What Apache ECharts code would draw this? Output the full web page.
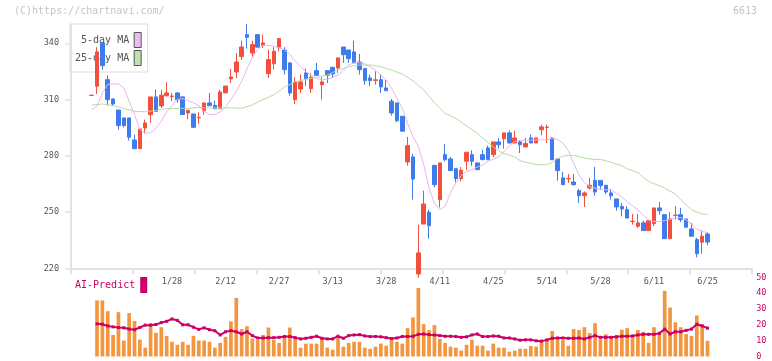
<!DOCTYPE html>
<html><head><meta charset="utf-8">
<script src="https://cdn.jsdelivr.net/npm/echarts@6/dist/echarts.min.js"></script>
<style>html,body{margin:0;padding:0;background:#fff}#c{width:772px;height:361px}</style>
</head><body><div id="c"></div>
<script>
const dates = ['1/6','1/7','1/8','1/9','1/10','1/14','1/15','1/16','1/17','1/20','1/21','1/22','1/23','1/24','1/27','1/28','1/29','1/30','1/31',
'2/3','2/4','2/5','2/6','2/7','2/10','2/12','2/13','2/14','2/17','2/18','2/19','2/20','2/21','2/25','2/26','2/27','2/28',
'3/3','3/4','3/5','3/6','3/7','3/10','3/11','3/12','3/13','3/14','3/17','3/18','3/19','3/21','3/24','3/25','3/26','3/27','3/28','3/31',
'4/1','4/2','4/3','4/4','4/7','4/8','4/9','4/10','4/11','4/14','4/15','4/16','4/17','4/18','4/21','4/22','4/23','4/24','4/25','4/28','4/30',
'5/1','5/2','5/7','5/8','5/9','5/12','5/13','5/14','5/15','5/16','5/19','5/20','5/21','5/22','5/23','5/26','5/27','5/28','5/29','5/30',
'6/2','6/3','6/4','6/5','6/6','6/9','6/10','6/11','6/12','6/13','6/16','6/17','6/18','6/19','6/20','6/23','6/24','6/25'];
const dateTickLabels = ['1/28','2/12','2/27','3/13','3/28','4/11','4/25','5/14','5/28','6/11','6/25'];
const priceTicks = [220, 250, 280, 310, 340];
const rightTicks = [0, 10, 20, 30, 40, 50];

const open = [312.2,317.1,340.2,320.6,310.3,304.4,300.2,300.2,288.4,283.8,294.8,301.9,311.4,306.6,312.1,311.6,313.5,311.4,302.8,302.3,
300.2,304.1,308.2,306.9,305.1,313.5,321,324.7,332.9,344.6,334.8,344.6,338.9,323.8,329.1,337.9,336.4,329.5,309.9,315.6,
324.2,315.8,325.4,317.9,325.4,327.2,326.8,338,336.4,335.4,330,326.5,321.5,320.2,320.6,316.2,309.1,308.2,301.1,276.7,
279.4,217,243.6,249.9,274.9,256.6,280.6,278.3,273.1,267.8,277.1,280.6,276.2,280.6,284.2,280.6,287.4,289.1,292.2,286.8,
287.4,284.7,289.5,286.8,293.9,295.1,289.5,278.3,268.2,267.7,266,261.4,258.7,262.8,266.9,266.9,264.3,260.2,257,253,
251.3,245,242.4,244.2,240.1,243.8,252.2,248.6,235.8,248.2,248.6,246.3,241,235.3,233.9,238.3];
const close = [312.3,335.4,328.1,309.9,307.6,296.1,296.1,289.9,283.8,294.3,297.5,311.4,303.7,312.3,313.5,311.9,309.9,302,304.3,295.2,
300.5,308.2,306.7,305.1,314,317.2,322,330,338,343.2,339.3,337.9,340.2,331.3,335.7,342.5,325.9,313.5,319.4,319.4,
321.1,321.9,322.9,319.4,322.9,323.6,332.2,333.9,331.8,329.5,325.9,320.1,320.1,320.5,316.7,314.7,302.8,298.7,293.1,285.4,
267.6,228.2,254.3,242.7,264.6,276.2,277.9,272.1,267.8,272.3,281.9,277.1,272.6,277.9,277.9,287.4,285.9,292.2,286.8,289.5,
285.9,286.5,286.8,289.5,295.4,295.3,277.9,272.1,264.6,267.9,264.6,258.7,260.2,264.3,260.7,264.1,260.7,258.7,252.7,251.6,
246.8,245.1,244.2,240.1,245.4,252.2,250.7,235.8,246.3,248.3,245.9,241.9,237.1,227.8,237.1,234];
const low = [312.2,313,325.9,306.9,306.4,293.9,295.2,288.1,283.8,283.8,291.8,297.5,303.7,305.5,311.4,309.1,308.2,302,299.6,295.2,
297,301.9,306.7,305.1,305.1,313.5,318.8,321.5,331.1,337.1,332.5,337.9,337.5,321.5,325.9,335.7,323.3,312,307.6,313.5,
317.1,313.5,322.9,309.9,318.8,321.5,324.2,329.5,329.5,329.5,323.3,317.9,317.1,317.9,313.5,314.7,301.4,297.9,293.1,274.7,
256.6,215,243.6,235.8,263.2,252.5,277.1,272.1,265.9,266.4,272.6,274.7,272.6,277.9,277.9,279.2,283.8,283.8,286.8,286.8,
281.5,284.7,286.8,286.8,290.9,286.8,277.9,266.7,264.6,265.5,264.1,254.8,252.7,261.9,258.7,261.9,259.6,256.6,250.7,247.7,
246.8,243.3,241.5,240.1,240.1,242.4,248.6,235.8,235.8,246,244.7,241.9,237.1,225.9,227.8,232.3];
const high = [312.3,337.9,340.5,322.9,310.5,304.5,300.2,300.2,291.3,294.3,299.3,311.4,315.3,315.3,319.2,313.5,314,311.4,304.3,302.3,
303.2,308.2,313.5,309.4,315.3,317.2,326.3,334.8,341.4,350.3,341.4,344.6,344.6,336.6,337.9,342.5,337.9,330,321.9,323.3,
326.5,324.2,329.5,321.9,325.4,327.2,332.2,338,336.4,341.4,334.3,326.5,323.3,325.1,323.3,320.6,310.3,308.2,301.1,290,
281,243.3,261.4,251.3,274.9,276.2,286.3,279.4,273.1,274,281.9,282.9,276.2,283.3,285.4,287.4,289.5,292.2,293.4,293.4,
288.4,289.5,291.3,289.5,296.6,296.6,290,278.3,271.4,270.3,270.3,262.3,261,268.2,274,266.9,264.3,262.3,257,254.8,
253.1,249,249,245.4,245.4,252.2,255.4,248.6,250,253.1,252.2,246.3,244.2,236.2,240.3,239.2];

const ma5 = [304.6,306.4,313.5,318.1,318.3,318.3,316.2,309.1,302,294,292.2,292.2,294.5,298.4,303.4,306.9,310.1,310.5,309.4,308.3,
306.7,303.7,302,302,303.4,305.9,310,314.4,319.7,326.5,332.5,336.6,338.9,338.9,338.4,337.5,336.6,333.9,330.7,327.5,
324.8,323,321.3,320.4,320.8,321.8,323,325.7,328.4,329.6,329.6,329,327.5,325.7,323,320.4,316,310.6,305.3,297.3,
290.2,285,275.3,262.8,254.8,251.3,253.1,260.2,265.5,269.4,271.7,272.6,274,275.1,277.1,278.1,279.5,282.2,285.3,287.6,
288.1,288.3,288.3,288.5,288.5,288.6,289.4,288.8,286.7,282.8,276,269.8,265.7,263.6,262.7,262.2,261.8,261.8,260,257.9,
255.6,253.3,251.1,248.5,245.8,244.9,244.9,245.4,246.2,246.7,247.1,245.8,243.7,240.8,239.6,239];
const ma25 = [307,307.3,307.6,307.2,306.7,306,305.3,304.5,303.7,303.5,303.5,303.8,304.2,304.7,305.1,305.2,305.3,305.3,305.3,305.5,
305.8,305.6,305.5,305.5,305.5,305.5,305.6,305.4,305.3,306.2,307.1,308.6,310,311.2,312.5,314.5,316.6,318,319.5,320,
320.8,321.3,321.8,322.5,323.1,324.4,325.7,326.6,327.5,328,328.4,328.4,328.4,328,327.5,326.6,325.7,324.6,323.6,321.8,
320,317.5,315.1,311.7,308.3,305.4,302.6,301.3,300,298,295.9,294,292,289.5,287,284.8,282.6,281.2,280.3,279.4,
277.4,276.5,276,275.3,275.2,275.3,276.5,278.5,279.8,280.2,280.2,279.5,278.8,278.3,278,278,277.4,276.5,275.6,274.7,
273,272.1,271,268.5,266.4,265.1,264.1,262.8,261.1,259.6,256.6,253.9,251.3,250,249,248.6];

const volume = [null,35.4,35.4,28.6,13.6,28,10.1,27.4,22.4,10.7,5.6,21,15,18.5,13,9.3,7.4,9.3,7.4,13,
10.1,10.1,9.3,5.6,8.6,12.4,22.2,37,17.3,19.1,11.3,10.5,13.6,18.3,10.5,8.6,12.8,18.3,11.1,5.6,
8.1,8.1,8.1,11.1,5.6,4.3,11.7,6.2,8.6,9.3,9.3,5.6,4.9,6.2,8.1,6.8,11.1,9.3,
8.1,17.9,24.7,43.2,20.4,16.7,19.8,11.1,8.6,6.2,5.6,3.7,7.4,10.5,6.8,6.8,3.7,8.1,5.6,5.6,
3.1,3.7,4.9,4.9,6.6,6.2,9.3,10.5,16.1,11.1,10.5,6.8,17.3,16.7,18.5,14.8,21,11.1,14,12.4,
13.6,16.9,17.9,13.6,16.7,15.6,8.6,18.5,14.8,41.4,30.9,21.6,18.5,14.2,13,25.9,20.4,9.9];
const aiPredict = [null,20.6,20.4,19.3,18.7,18.3,18.1,17.3,16.9,18.3,19.8,19.8,20.2,21.4,22.2,23.7,22.8,20,20,18.5,
17.1,18.1,16.9,16.3,13.6,15.6,16.3,15.6,14.2,15.6,13.2,11.7,11.7,11.9,11.9,12.1,12.6,12.6,11.9,11.1,
11.5,12.1,12.8,11.5,11.1,11.1,12.8,11.5,13.2,13.6,13.8,13,12.6,12.6,12.4,11.9,11.3,11.7,
12.6,12.6,12.8,14,14.2,13.8,13.6,13.2,12.8,12.8,12.6,12.1,12.4,13.6,14.2,12.6,12.6,13,12.8,11.7,11.7,11.1,
10.3,10.5,10.5,9.9,9.7,10.5,11.5,11.7,11.7,11.5,11.5,11.7,11.1,12.1,13.2,12.1,12.1,12.1,12.4,12.8,
12.8,13,13.6,14,14,14,14.6,17.3,14.2,15.6,15.6,16.5,17.3,20.4,19.3,17.9];

const MONO = "'DejaVu Sans Mono', 'Liberation Mono', monospace";
const UP = '#f2503e', DOWN = '#3e7ced';
const AXIS = '#e2e2e2';

const candles = dates.map((d, i) => [open[i], close[i], low[i], high[i]]);

const chart = echarts.init(document.getElementById('c'), null, {renderer: 'canvas'});
chart.setOption({
  animation: false,
  backgroundColor: '#fff',
  title: [
    {text: '(C)https://chartnavi.com/', left: 14, top: 6, padding: 0,
     textStyle: {fontFamily: MONO, fontSize: 10, fontWeight: 'normal', color: '#c4c4c4'}},
    {text: '6613', right: 15, top: 6, padding: 0,
     textStyle: {fontFamily: MONO, fontSize: 10, fontWeight: 'normal', color: '#c4c4c4'}}
  ],
  legend: [
    {orient: 'vertical', left: 70, top: 24, align: 'right', z: 0,
     padding: [8, 6, 6, 5], itemGap: 2, itemWidth: 7, itemHeight: 15,
     backgroundColor: '#fff', borderColor: '#dcdcdc', borderWidth: 1,
     selectedMode: false,
     textStyle: {fontFamily: MONO, fontSize: 10, color: '#555'},
     formatter: n => n === '5-day MA' ? ' 5-day MA' : n,
     data: [
       {name: '5-day MA', icon: 'rect', itemStyle: {color: '#eebcee', borderColor: '#555', borderWidth: 1}},
       {name: '25-day MA', icon: 'rect', itemStyle: {color: '#bfe0b0', borderColor: '#555', borderWidth: 1}}
     ]},
    {orient: 'horizontal', left: 75, top: 277, align: 'right', padding: 0,
     itemWidth: 7, itemHeight: 16, selectedMode: false,
     textStyle: {fontFamily: MONO, fontSize: 10, color: '#cc0066'},
     data: [{name: 'AI-Predict', icon: 'rect', itemStyle: {color: '#cc0066', borderWidth: 0}}]}
  ],
  grid: [
    {left: 71, right: 20, top: 24.5, bottom: 92.7},
    {left: 89, right: 61.8, top: 24.5, bottom: 92.7},
    {left: 89, right: 61.8, top: 277.3, bottom: 3}
  ],
  xAxis: [
    {gridIndex: 0, type: 'value', min: 0, max: 11, interval: 1,
     axisLine: {show: true, lineStyle: {color: AXIS, width: 2}},
     axisTick: {show: true, length: 6, lineStyle: {color: AXIS, width: 2}},
     axisLabel: {show: false}, splitLine: {show: false}},
    {gridIndex: 1, type: 'category', data: dates, boundaryGap: true,
     axisLine: {show: false}, axisTick: {show: false}, splitLine: {show: false},
     axisLabel: {show: true, margin: 9, fontFamily: MONO, fontSize: 8.5, color: '#555',
       interval: (i, v) => dateTickLabels.includes(v)}},
    {gridIndex: 2, type: 'category', data: dates, boundaryGap: true,
     axisLine: {show: false}, axisTick: {show: false}, axisLabel: {show: false}, splitLine: {show: false}}
  ],
  yAxis: [
    {gridIndex: 0, type: 'value', min: 220, max: 350,
     axisLine: {show: true, lineStyle: {color: AXIS, width: 2}},
     axisTick: {show: true, length: 6, customValues: priceTicks, lineStyle: {color: AXIS, width: 1.5}},
     axisLabel: {show: true, customValues: priceTicks, margin: 12, fontFamily: MONO, fontSize: 8.5, color: '#555'},
     splitLine: {show: false}},
    {gridIndex: 1, type: 'value', min: 220, max: 350, show: false, splitLine: {show: false}},
    {gridIndex: 2, type: 'value', min: 0, max: 50, position: 'right',
     axisLine: {show: false}, axisTick: {show: false},
     axisLabel: {show: true, customValues: rightTicks, margin: 46, fontFamily: MONO, fontSize: 8.5, color: '#cc0066', align: 'left'},
     splitLine: {show: false}}
  ],
  series: [
    {type: 'candlestick', name: 'price', xAxisIndex: 1, yAxisIndex: 1, data: candles,
     barWidth: 4, clip: true, z: 3,
     itemStyle: {color: UP, color0: DOWN, borderColor: UP, borderColor0: DOWN, borderWidth: 1}},
    {type: 'line', name: '5-day MA', xAxisIndex: 1, yAxisIndex: 1, data: ma5,
     symbol: 'none', z: 4, lineStyle: {color: '#ecb4ec', width: 1}, itemStyle: {color: '#eebcee'}},
    {type: 'line', name: '25-day MA', xAxisIndex: 1, yAxisIndex: 1, data: ma25,
     symbol: 'none', z: 4, lineStyle: {color: '#b6dca6', width: 1}, itemStyle: {color: '#bfe0b0'}},
    {type: 'bar', name: 'volume', xAxisIndex: 2, yAxisIndex: 2, data: volume,
     barWidth: 3.7, itemStyle: {color: '#f2963f'}},
    {type: 'line', name: 'AI-Predict', xAxisIndex: 2, yAxisIndex: 2, data: aiPredict,
     symbol: 'rect', symbolSize: 3, z: 5,
     lineStyle: {color: '#cc0066', width: 2}, itemStyle: {color: '#cc0066'}}
  ]
});
</script>
</body></html>
